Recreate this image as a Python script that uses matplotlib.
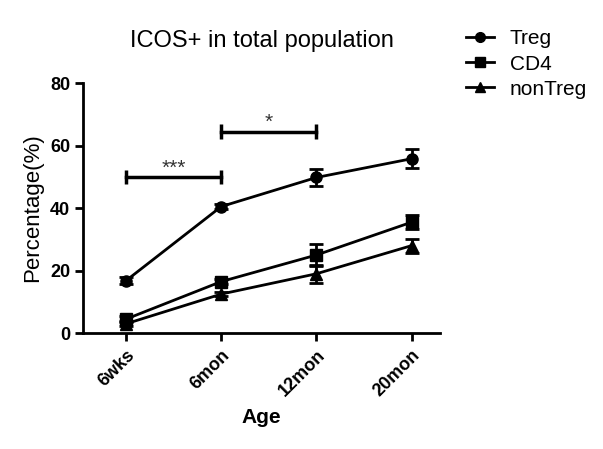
import matplotlib
matplotlib.use('Agg')
import matplotlib.pyplot as plt
from matplotlib.lines import Line2D

plt.rcParams['font.family'] = ['Liberation Sans', 'DejaVu Sans']

# data
ages = ["6wks", "6mon", "12mon", "20mon"]
treg = [16.8, 40.5, 49.8, 55.8]
treg_err = [1.2, 0.8, 2.6, 3.0]
cd4 = [4.5, 16.5, 25.0, 35.5]
cd4_err = [1.0, 0.8, 3.5, 2.2]
nontreg = [3.0, 12.5, 19.0, 28.0]
nontreg_err = [0.8, 0.7, 2.8, 2.2]

fig = plt.figure(figsize=(6.03, 4.49), dpi=100)
ax = fig.add_axes([0.138, 0.258, 0.592, 0.557])

x = list(range(len(ages)))
style = dict(color='black', lw=2, ms=8, capsize=5, capthick=2, elinewidth=2)
ax.errorbar(x, treg, yerr=treg_err, marker='o', **style)
ax.errorbar(x, cd4, yerr=cd4_err, marker='s', **style)
ax.errorbar(x, nontreg, yerr=nontreg_err, marker='^', **style)

# significance brackets
ax.errorbar([0, 1], [50, 50], yerr=[[2.3, 2.3], [2.3, 2.3]], color='black', lw=2.5,
            elinewidth=2.5, capsize=0)
ax.text(0.5, 52.8, '***', ha='center', va='center', fontsize=15, color='#333333')
ax.errorbar([1, 2], [64.5, 64.5], yerr=[[2.3, 2.3], [2.3, 2.3]], color='black', lw=2.5,
            elinewidth=2.5, capsize=0)
ax.text(1.5, 67.5, '*', ha='center', va='center', fontsize=15, color='#333333')

ax.set_xlim(-0.45, 3.3)
ax.set_ylim(0, 80)
ax.set_yticks([0, 20, 40, 60, 80])
ax.set_xticks(x)
ax.set_xticklabels(ages, rotation=45, ha='right', rotation_mode='anchor')
for lab in ax.get_xticklabels() + ax.get_yticklabels():
    lab.set_fontweight('bold')
    lab.set_fontsize(13)

for s in ['top', 'right']:
    ax.spines[s].set_visible(False)
for s in ['left', 'bottom']:
    ax.spines[s].set_linewidth(2)
ax.tick_params(width=2, length=6)

ax.set_xlabel('Age', fontsize=15, fontweight='bold', labelpad=6)
ax.set_ylabel('Percentage(%)', fontsize=16, labelpad=5)
ax.set_title('ICOS+ in total population', fontsize=17, pad=26)

handles = [Line2D([], [], color='black', lw=2, marker=m, ms=7) for m in ['o', 's', '^']]
ax.legend(handles, ['Treg', 'CD4', 'nonTreg'], loc='upper left',
          bbox_to_anchor=(1.02, 1.29), frameon=False, fontsize=15,
          handlelength=1.35, handletextpad=0.75, labelspacing=0.3)

fig.savefig('out.png', dpi=100)
